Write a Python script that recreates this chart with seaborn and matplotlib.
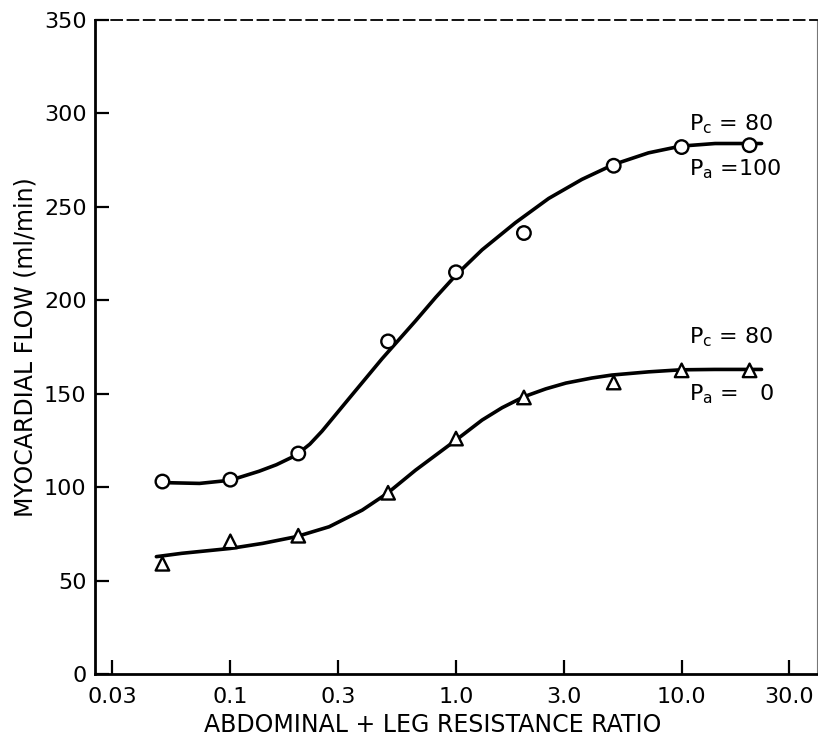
import numpy as np
import pandas as pd
import seaborn as sns
import matplotlib.pyplot as plt

# measured points (ratio vs myocardial flow)
ratio = [0.05, 0.1, 0.2, 0.5, 1.0, 2.0, 5.0, 10.0, 20.0]
flow_pa100 = [103, 104, 118, 178, 215, 236, 272, 282, 283]
flow_pa0 = [59, 71, 74, 97, 126, 148, 156, 162.5, 162.5]

# hand-drawn smooth curves
upper_x = [0.052, 0.073, 0.1, 0.134, 0.16, 0.195, 0.225, 0.255, 0.336, 0.47, 0.662, 0.812,
           1.0, 1.305, 1.833, 2.575, 3.614, 5.0, 7.13, 9.91, 14.07, 22.6]
upper_y = [102.4, 102.0, 103.7, 108.5, 112.0, 117.0, 123.0, 130.0, 147.5, 168.7, 189.0, 201.5,
           213.5, 227.0, 241.5, 254.5, 264.7, 272.7, 278.9, 282.5, 283.9, 283.9]
lower_x = [0.047, 0.061, 0.1, 0.139, 0.196, 0.274, 0.384, 0.496, 0.662,
           1.0, 1.305, 1.6, 2.0, 2.5, 3.07, 4.0, 4.91, 7.13, 9.91, 14.0, 22.6]
lower_y = [62.8, 64.6, 67.2, 69.9, 73.5, 78.8, 87.7, 96.7, 109.1,
           125.2, 135.9, 142.5, 148.4, 152.6, 155.7, 158.4, 160.0, 161.7, 162.8, 163.0, 163.0]

xticks = [0.03, 0.1, 0.3, 1.0, 3.0, 10.0, 30.0]
xtick_labels = ["0.03", "0.1", "0.3", "1.0", "3.0", "10.0", "30.0"]
yticks = [0, 50, 100, 150, 200, 250, 300, 350]

pts = pd.DataFrame({"ratio": ratio * 2,
                    "flow": flow_pa100 + flow_pa0,
                    "grp": ["Pa100"] * len(ratio) + ["Pa0"] * len(ratio)})
curves = pd.DataFrame({"ratio": upper_x + lower_x,
                       "flow": upper_y + lower_y,
                       "grp": ["Pa100"] * len(upper_x) + ["Pa0"] * len(lower_x)})

sns.set_style("ticks")
plt.rcParams['font.family'] = ['DejaVu Sans']
for k in ["text.color", "axes.labelcolor", "xtick.color", "ytick.color"]:
    plt.rcParams[k] = "black"

fig = plt.figure(figsize=(8.18, 7.38), dpi=100)
ax = fig.add_axes([0.1161, 0.0867, 0.8827, 0.8862])

sns.lineplot(data=curves, x="ratio", y="flow", units="grp", estimator=None,
             color="black", linewidth=2.6, ax=ax, sort=False,
             solid_joinstyle="round", solid_capstyle="round")
sns.scatterplot(data=pts, x="ratio", y="flow", style="grp",
                markers={"Pa100": "o", "Pa0": "^"}, s=95, facecolor="white",
                edgecolor="black", linewidth=1.7, ax=ax, legend=False, zorder=3)

ax.set_xscale("log")
ax.set_xlim(10 ** -1.6, 10 ** 1.6)
ax.set_ylim(0, 350)
ax.set_xticks(xticks)
ax.set_xticklabels(xtick_labels)
ax.set_yticks(yticks)
ax.minorticks_off()
ax.tick_params(axis="both", direction="in", length=10, width=1.6, labelsize=16)
ax.tick_params(axis="y", pad=6)
ax.tick_params(axis="x", pad=9)

for s in ["left", "bottom"]:
    ax.spines[s].set_linewidth(2.0)
    ax.spines[s].set_color("black")
ax.spines["top"].set_linestyle((0, (6, 3)))
ax.spines["top"].set_linewidth(1.3)
ax.spines["top"].set_color("black")
ax.spines["right"].set_linewidth(0.8)
ax.spines["right"].set_color("#777777")

ax.set_xlabel("ABDOMINAL + LEG RESISTANCE RATIO", fontsize=17, labelpad=5, x=0.468)
ax.set_ylabel("MYOCARDIAL FLOW (ml/min)", fontsize=17, labelpad=5)

ax.text(10.8, 294, r"P$_{\rm c}$ = 80", fontsize=16, va="center", ha="left")
ax.text(10.8, 270, r"P$_{\rm a}$ =100", fontsize=16, va="center", ha="left")
ax.text(10.8, 180, r"P$_{\rm c}$ = 80", fontsize=16, va="center", ha="left")
ax.text(10.8, 150, r"P$_{\rm a}$ =   0", fontsize=16, va="center", ha="left")

fig.savefig("out.png", dpi=100)
